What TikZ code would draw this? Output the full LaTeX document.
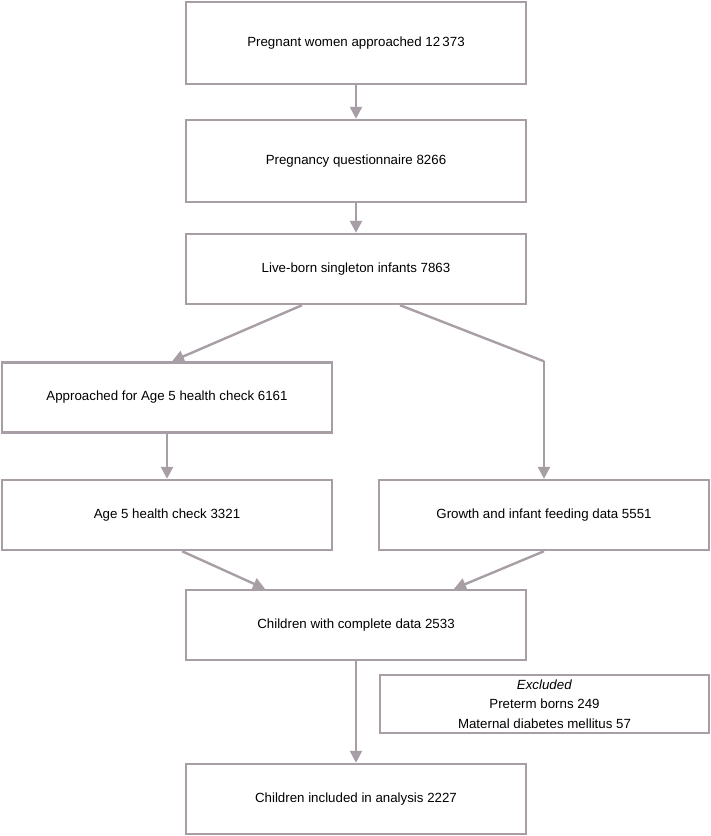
\documentclass[tikz,border=0pt]{standalone}
\usepackage{fontspec}
\setmainfont{Liberation Sans}
\usetikzlibrary{arrows.meta,calc}
\definecolor{flowgray}{RGB}{168,158,166}
\begin{document}
\begin{tikzpicture}[x=1pt,y=-1pt,
  box/.style={draw=flowgray,line width=2.4pt,rectangle,inner sep=0pt,align=center,
    font=\fontsize{13.3}{19.5}\selectfont,text=black},
  bigbox/.style={box,minimum width=340pt,minimum height=82pt},
  midbox/.style={box,minimum width=340pt,minimum height=70pt},
  sidebox/.style={box,minimum width=330pt,minimum height=70pt},
  conn/.style={draw=flowgray,line width=2.4pt,-{Triangle[length=12pt,width=12pt]}},
  connline/.style={draw=flowgray,line width=2.4pt}]
\useasboundingbox (0,0) rectangle (711,836);
\node[bigbox] (b1) at (356,43) {Pregnant women approached 12\,373};
\node[bigbox] (b2) at (356,161) {Pregnancy questionnaire 8266};
\node[midbox] (b3) at (356,269) {Live-born singleton infants 7863};
\node[sidebox] (b4) at (167,397.5) {Approached for Age 5 health check 6161};
\node[sidebox] (b5) at (167,515) {Age 5 health check 3321};
\node[sidebox] (b6) at (544,515) {Growth and infant feeding data 5551};
\node[midbox] (b7) at (356,625) {Children with complete data 2533};
\node[box,minimum width=329pt,minimum height=58pt] (ex) at (544.5,704)
  {\textit{Excluded}\\Preterm borns 249\\Maternal diabetes mellitus 57};
\node[midbox] (b9) at (356,799) {Children included in analysis 2227};
\coordinate (corner) at (b6.north |- b4.north);
\draw[conn] (b1.south) -- (b2.north);
\draw[conn] (b2.south) -- (b3.north);
\draw[conn] ([xshift=-54pt]b3.south) -- ([xshift=5pt]b4.north);
\draw[connline,line join=miter] ([xshift=44pt]b3.south) -- (corner);
\draw[conn] (corner) -- (b6.north);
\draw[conn] (b4.south) -- (b5.north);
\draw[conn] ([xshift=15pt]b5.south) -- ([xshift=-91pt]b7.north);
\draw[conn] (b6.south) -- ([xshift=98pt]b7.north);
\draw[conn] (b7.south) -- (b9.north);
\end{tikzpicture}
\end{document}
